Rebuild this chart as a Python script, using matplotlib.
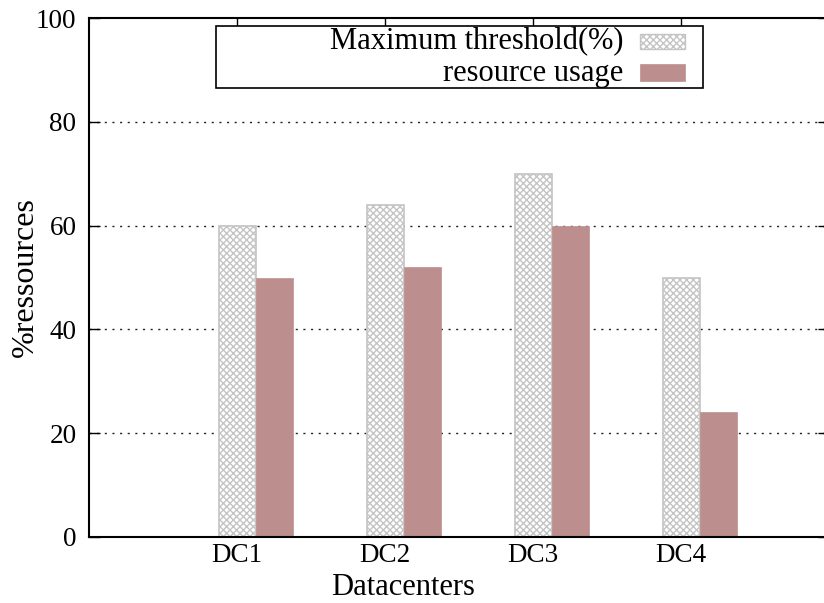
import matplotlib
matplotlib.use("Agg")
import matplotlib.pyplot as plt
from matplotlib.patches import Rectangle
import numpy as np

datacenters = ["DC1", "DC2", "DC3", "DC4"]
max_threshold = [60, 64, 70, 50]
resource_usage = [50, 52, 60, 24]

plt.rcParams['font.family'] = ['Liberation Serif', 'DejaVu Serif']
plt.rcParams['hatch.linewidth'] = 1.0
plt.rcParams['hatch.color'] = '#c4c4c4'

W, H = 824, 603
fig = plt.figure(figsize=(W / 100, H / 100), dpi=100)

def fx(x):
    return x / W

def fy(y):
    return 1 - y / H

# axes box in pixels: x from 89 to 829 (right edge falls off the canvas), y from 18 to 537
ax = fig.add_axes([fx(89), fy(537), (829 - 89) / W, (537 - 18) / H])

pos = np.arange(len(datacenters))
bw = 0.25
pink = '#bc8e8e'
fs = 22

ax.bar(pos, max_threshold, bw, color='white', edgecolor='#c4c4c4',
       hatch='xxxxx', linewidth=1.2, zorder=2)
ax.bar(pos + bw, resource_usage, bw, color=pink, edgecolor=pink,
       linewidth=0.5, zorder=2)

ax.set_xlim(-1, 4)
ax.set_ylim(0, 100)
ax.set_xticks(pos)
ax.set_xticklabels(datacenters)
ax.set_yticks([0, 20, 40, 60, 80, 100])

for y in [20, 40, 60, 80]:
    ax.axhline(y, color='#222222', linewidth=1.0, linestyle=(0, (1.5, 4)), zorder=1)

for s in ax.spines.values():
    s.set_linewidth(1.5)
    s.set_zorder(3)

ax.tick_params(axis='both', direction='in', length=8, width=1.0,
               labelsize=19.5, top=True, right=True, pad=9)
ax.tick_params(axis='x', pad=4)

ax.set_xlabel("Datacenters", fontsize=fs)
ax.set_ylabel("%ressources", fontsize=23)
ax.xaxis.set_label_coords(0.424, -0.07)
ax.yaxis.set_label_coords(-0.067, 0.5)

# legend box drawn in figure pixels
leg = Rectangle((fx(216), fy(88)), fx(703) - fx(216), fy(26) - fy(88),
                transform=fig.transFigure, facecolor='white', edgecolor='black',
                linewidth=1.2, zorder=5)
fig.add_artist(leg)
fig.add_artist(Rectangle((fx(640), fy(49)), fx(685) - fx(640), fy(34) - fy(49),
                         transform=fig.transFigure, facecolor='white',
                         edgecolor='#c4c4c4', hatch='xxxxx', linewidth=1.0, zorder=6))
fig.add_artist(Rectangle((fx(640), fy(81)), fx(685) - fx(640), fy(64) - fy(81),
                         transform=fig.transFigure, facecolor=pink,
                         edgecolor=pink, linewidth=0.5, zorder=6))
fig.text(fx(623), fy(42), "Maximum threshold(%)", ha='right', va='center',
         fontsize=fs, zorder=7)
fig.text(fx(623), fy(73), "resource usage", ha='right', va='center',
         fontsize=fs, zorder=7)

fig.savefig("out.png", dpi=100)
